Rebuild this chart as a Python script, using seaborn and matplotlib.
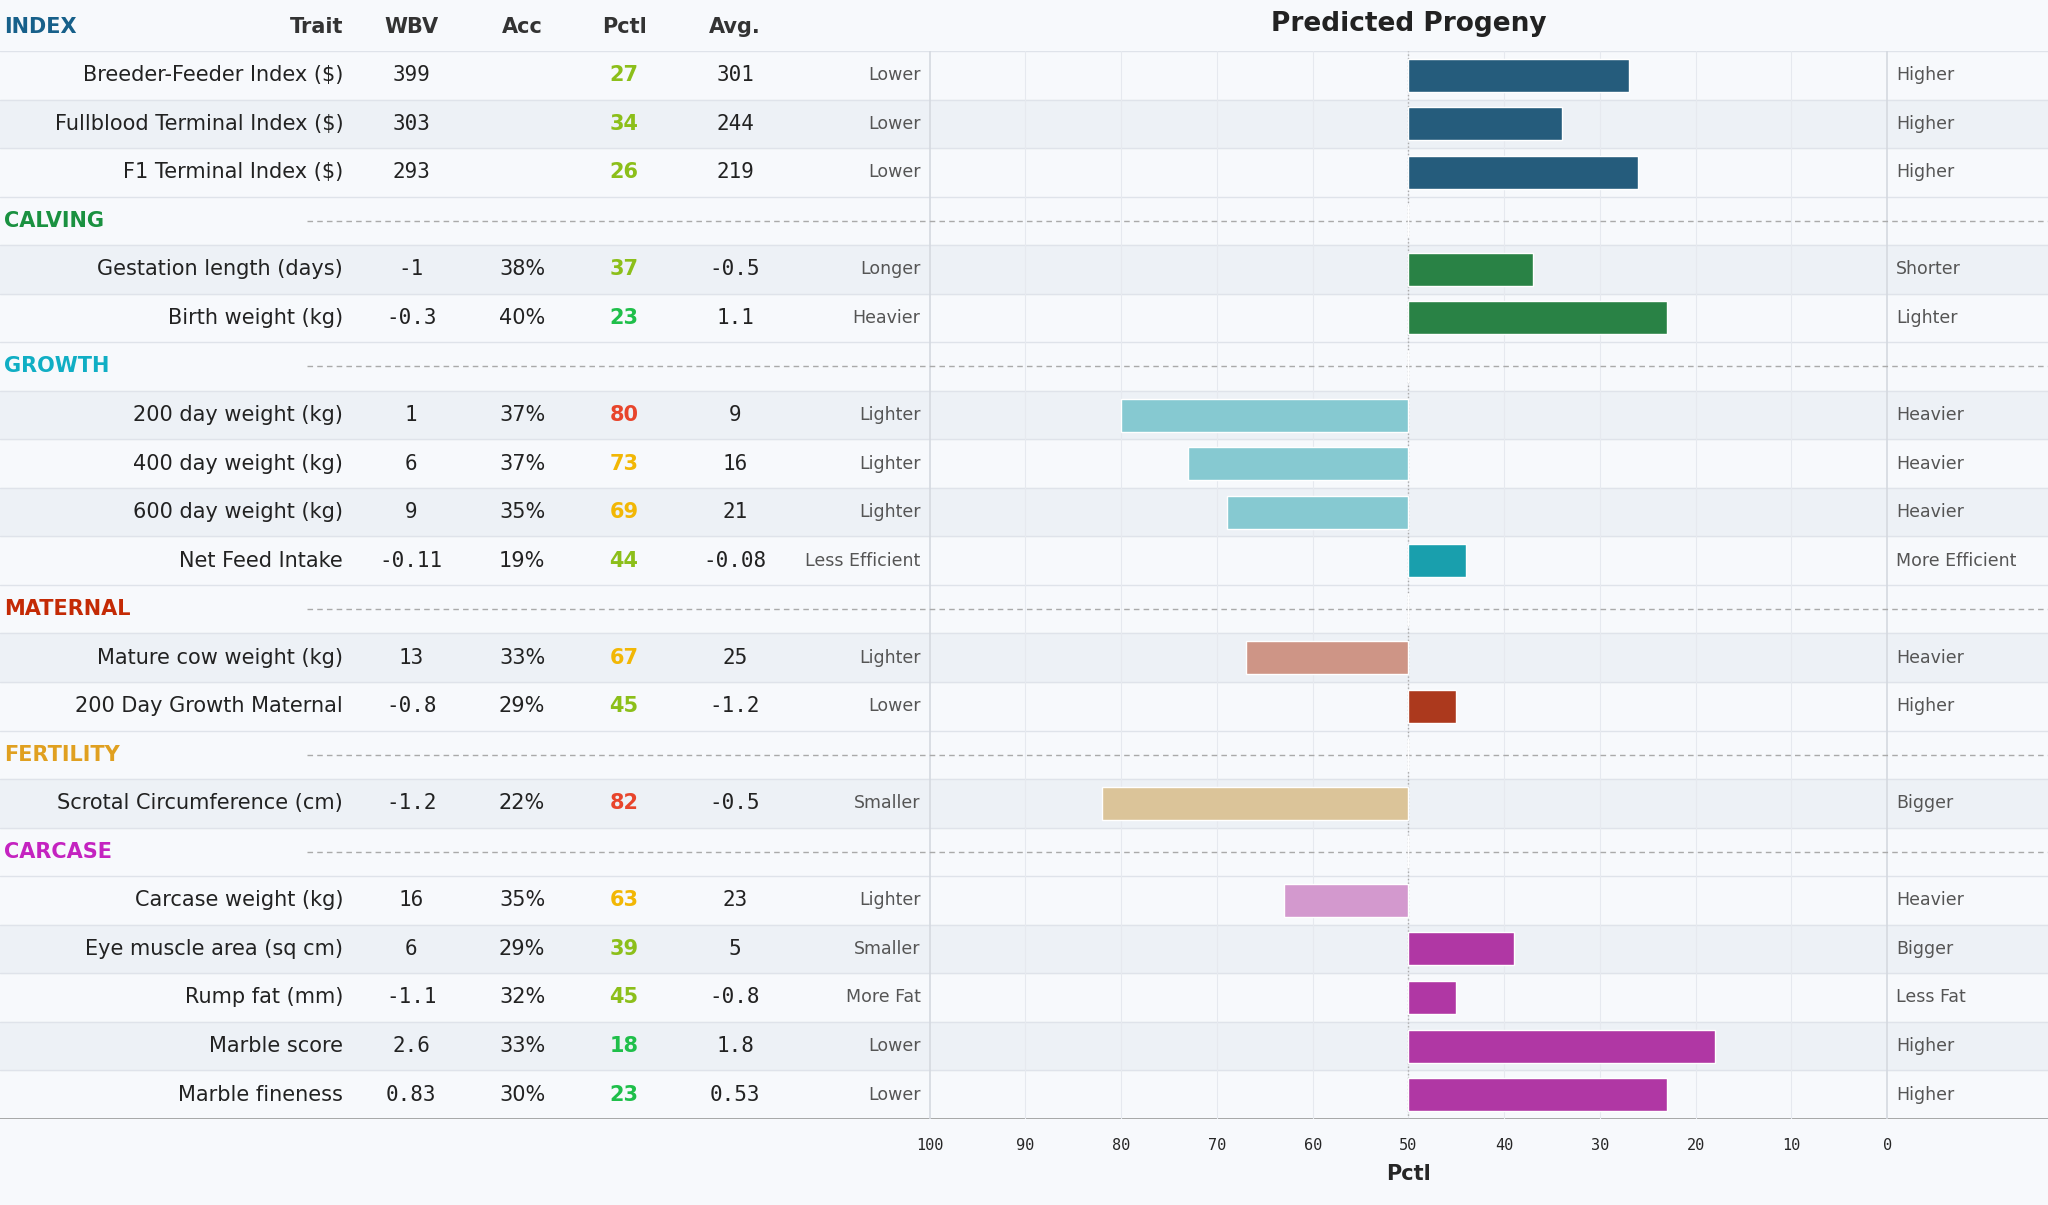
import numpy as np
import pandas as pd
import matplotlib.pyplot as plt
import seaborn as sns

# rows: (section header rows have trait=None)
sections = ["INDEX", "CALVING", "GROWTH", "MATERNAL", "FERTILITY", "CARCASE"]
section_colors = {"INDEX": "#17608a", "CALVING": "#1a9140", "GROWTH": "#10aec4",
                  "MATERNAL": "#c42a05", "FERTILITY": "#e0a020", "CARCASE": "#c423c0"}

traits = ["Breeder-Feeder Index ($)", "Fullblood Terminal Index ($)", "F1 Terminal Index ($)",
          "#CALVING", "Gestation length (days)", "Birth weight (kg)",
          "#GROWTH", "200 day weight (kg)", "400 day weight (kg)", "600 day weight (kg)", "Net Feed Intake",
          "#MATERNAL", "Mature cow weight (kg)", "200 Day Growth Maternal",
          "#FERTILITY", "Scrotal Circumference (cm)",
          "#CARCASE", "Carcase weight (kg)", "Eye muscle area (sq cm)", "Rump fat (mm)",
          "Marble score", "Marble fineness"]
wbv = ["399", "303", "293", "", "-1", "-0.3", "", "1", "6", "9", "-0.11", "", "13", "-0.8",
       "", "-1.2", "", "16", "6", "-1.1", "2.6", "0.83"]
acc = ["", "", "", "", "38%", "40%", "", "37%", "37%", "35%", "19%", "", "33%", "29%",
       "", "22%", "", "35%", "29%", "32%", "33%", "30%"]
pctl = [27, 34, 26, None, 37, 23, None, 80, 73, 69, 44, None, 67, 45, None, 82, None,
        63, 39, 45, 18, 23]
avg = ["301", "244", "219", "", "-0.5", "1.1", "", "9", "16", "21", "-0.08", "", "25", "-1.2",
       "", "-0.5", "", "23", "5", "-0.8", "1.8", "0.53"]
low_lbl = ["Lower", "Lower", "Lower", "", "Longer", "Heavier", "", "Lighter", "Lighter", "Lighter",
           "Less Efficient", "", "Lighter", "Lower", "", "Smaller", "", "Lighter", "Smaller",
           "More Fat", "Lower", "Lower"]
high_lbl = ["Higher", "Higher", "Higher", "", "Shorter", "Lighter", "", "Heavier", "Heavier", "Heavier",
            "More Efficient", "", "Heavier", "Higher", "", "Bigger", "", "Heavier", "Bigger",
            "Less Fat", "Higher", "Higher"]
bar_colors = ["#17608a", "#17608a", "#17608a", "#ffffff", "#1a9140", "#1a9140", "#ffffff",
              "#7ad3dd", "#7ad3dd", "#7ad3dd", "#00b3c6", "#ffffff", "#da8e7a", "#c42a05",
              "#ffffff", "#e6c78e", "#ffffff", "#dd8fd6", "#c423b4", "#c423b4", "#c423b4", "#c423b4"]


def pctl_color(p):
    if p <= 25:
        return "#1fbf4a"
    if p <= 50:
        return "#8cbf1a"
    if p <= 75:
        return "#f2b705"
    return "#e8452c"


df = pd.DataFrame({"row": traits,
                   "d": [0 if p is None else 50 - p for p in pctl]})

bg = "#f7f9fc"
sns.set_theme(style="white")
plt.rcParams["font.family"] = ["DejaVu Sans"]
fig = plt.figure(figsize=(20.48, 12.05), dpi=100, facecolor=bg)
ax = fig.add_axes([0, 0.0715, 1, 0.9577 - 0.0715])
ax.set_facecolor(bg)

n = len(traits)
shaded = {1, 4, 7, 9, 12, 15, 18, 20}
for i in range(n):
    if i in shaded:
        ax.axhspan(i - 0.5, i + 0.5, color="#edf1f6", zorder=0)
    ax.axhline(i - 0.5, color="#dfe3ea", lw=1, zorder=1)
ax.axhline(n - 0.5, color="#999999", lw=1.2, zorder=1)

for t in range(-40, 50, 10):
    ax.axvline(t, color="#e6e9ef", lw=0.8, zorder=1)
ax.axvline(-50, color="#d5d9e0", lw=1.2, zorder=1)
ax.axvline(50, color="#d5d9e0", lw=1.2, zorder=1)
ax.axvline(0, color="#aaaaaa", lw=1, ls=":", zorder=1)

sns.barplot(data=df, x="d", y="row", hue="row", order=traits, hue_order=traits,
            palette=dict(zip(traits, bar_colors)), orient="h", width=0.68,
            legend=False, ax=ax, zorder=3)

ax.set_xlim(-147.1, 66.8)
ax.set_ylim(n - 0.5, -0.5)
ax.set_yticks([])
ax.set_ylabel("")
ticks = list(range(-50, 51, 10))
ax.set_xticks(ticks)
ax.set_xticklabels([str(50 - t) for t in ticks], family="DejaVu Sans Mono", fontsize=11)
ax.tick_params(axis="x", length=0, pad=14)
ax.set_xlabel("Pctl", fontsize=15, fontweight="bold", labelpad=4)
ax.xaxis.set_label_coords(0.6876, -0.042)
for s in ax.spines.values():
    s.set_visible(False)

x_trait, x_wbv, x_acc, x_pct, x_avg, x_low, x_high = -111.25, -104.16, -92.57, -81.92, -70.33, -50.95, 50.95
fs = 15
# header
hy = -1.0
ax.text(-146.7, hy, "INDEX", color=section_colors["INDEX"], fontsize=fs, fontweight="bold", va="center")
ax.text(x_trait, hy, "Trait", ha="right", va="center", fontsize=fs, fontweight="bold", color="#333333")
for xx, lab in [(x_wbv, "WBV"), (x_acc, "Acc"), (x_pct, "Pctl"), (x_avg, "Avg.")]:
    ax.text(xx, hy, lab, ha="center", va="center", fontsize=fs, fontweight="bold", color="#333333")
ax.text(0, hy - 0.05, "Predicted Progeny", ha="center", va="center", fontsize=19, fontweight="bold",
        color="#222222")
ax.axhline(-1.5, color="#dfe3ea", lw=1)

for i, t in enumerate(traits):
    if t.startswith("#"):
        name = t[1:]
        ax.text(-146.7, i, name, color=section_colors[name], fontsize=fs, fontweight="bold", va="center")
        ax.plot([-115, 66.8], [i, i], color="#aaaaaa", lw=1, ls=(0, (4, 3)), zorder=2)
        continue
    ax.text(x_trait, i, t, ha="right", va="center", fontsize=fs, color="#222222")
    ax.text(x_wbv, i, wbv[i], ha="center", va="center", fontsize=fs, family="DejaVu Sans Mono", color="#222222")
    ax.text(x_acc, i, acc[i], ha="center", va="center", fontsize=fs, color="#222222")
    ax.text(x_pct, i, str(pctl[i]), ha="center", va="center", fontsize=fs, fontweight="bold",
            color=pctl_color(pctl[i]))
    ax.text(x_avg, i, avg[i], ha="center", va="center", fontsize=fs, family="DejaVu Sans Mono", color="#222222")
    ax.text(x_low, i, low_lbl[i], ha="right", va="center", fontsize=12.5, color="#555555")
    ax.text(x_high, i, high_lbl[i], ha="left", va="center", fontsize=12.5, color="#555555")

fig.savefig("out.png", dpi=100, facecolor=bg)
